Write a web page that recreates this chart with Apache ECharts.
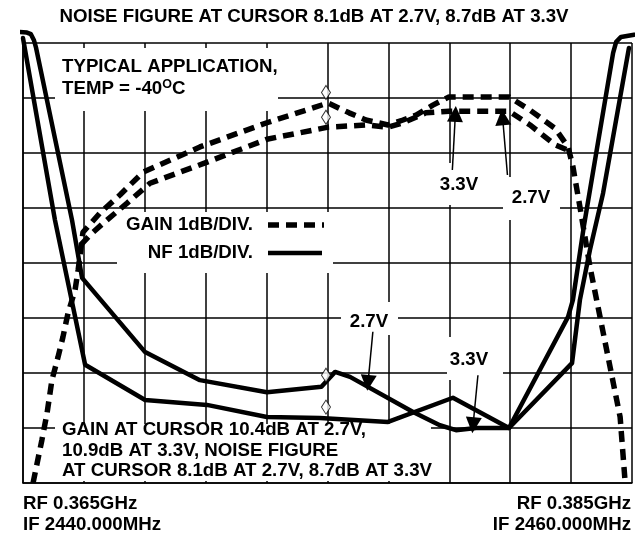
<!DOCTYPE html>
<html>
<head>
<meta charset="utf-8">
<script src="https://cdn.jsdelivr.net/npm/echarts@6/dist/echarts.min.js"></script>
<style>
html, body { margin: 0; padding: 0; background: #fff; }
#app { width: 636px; height: 537px; }
</style>
</head>
<body>
<div id="app"></div>
<script>
// x: IF frequency in MHz (2MHz/div), y: screen divisions (1dB/div)
var xTicks = [2440, 2460, 2];
var yTicks = [0, 8, 1];

var gain33 = [[2440.33,0],[2440.62,0.78],[2440.79,1.27],[2440.95,1.87],[2441.15,2.29],[2441.31,2.65],
  [2441.48,3.09],[2441.71,3.51],[2441.81,3.87],[2441.97,4.56],[2442.53,4.91],[2443.19,5.24],[2443.94,5.65],
  [2445.81,6.11],[2448.01,6.55],[2449.52,6.82],[2450.02,6.91],[2450.71,6.73],[2451.26,6.6],[2451.99,6.51],
  [2452.48,6.6],[2452.91,6.69],[2453.46,6.87],[2453.99,7.02],[2455.96,7.02],[2456.65,6.78],[2457.47,6.45],
  [2457.90,6.11],[2458.06,5.75],[2458.29,5.02],[2458.62,3.93],[2458.95,3.02],[2459.28,2.11],[2459.61,1.2],
  [2459.77,0.05]];
var gain27 = [[2441.90,4.33],[2442.20,4.51],[2442.69,4.75],[2443.42,5.09],[2444.17,5.45],[2445.98,5.82],
  [2448.01,6.25],[2450.02,6.47],[2451.26,6.51],[2451.99,6.47],[2452.48,6.55],[2453.23,6.73],[2453.99,6.76],
  [2455.96,6.76],[2456.65,6.51],[2457.47,6.15],[2457.90,6.05]];
var nf27 = [[2439.84,8.2],[2440.13,8.19],[2440.26,8.16],[2440.36,8.05],[2440.43,7.91],[2441.61,4.78],
  [2441.94,3.73],[2444.01,2.38],[2445.81,1.87],[2448.01,1.65],[2449.80,1.75],[2450.25,2.02],[2450.74,1.93],
  [2452.81,1.29],[2453.69,1.05],[2454.22,0.96],[2454.88,1.0],[2455.96,1.0],[2457.90,3.02],[2458.06,3.33],
  [2458.42,4.67],[2459.38,7.82],[2459.48,8.02],[2459.64,8.11],[2460.07,8.15]];
var nf33 = [[2440.0,8.09],[2441.05,4.78],[2442.04,2.15],[2444.01,1.51],[2446.04,1.42],[2448.01,1.2],
  [2449.75,1.18],[2451.99,1.11],[2454.12,1.55],[2455.96,1.0],[2458.03,2.18],[2458.29,3.33],[2458.62,4.24],
  [2459.05,5.27],[2459.90,7.91]];
var cursorMarks = [[2449.95,7.1],[2449.95,6.65],[2449.95,1.96],[2449.95,1.38]];
var arrows = [
  [[2454.10,5.69],[2454.20,6.71]],
  [[2455.91,5.6],[2455.75,6.65]],
  [[2451.49,2.75],[2451.33,1.82]],
  [[2454.94,1.96],[2454.78,1.05]]
];

var FAMILY = '"Liberation Sans", Arial, sans-serif';
var FSIZE = 18.7;
var titleText = 'NOISE FIGURE AT CURSOR 8.1dB AT 2.7V, 8.7dB AT 3.3V';
var noteText = 'GAIN AT CURSOR 10.4dB AT 2.7V,\n10.9dB AT 3.3V, NOISE FIGURE\nAT CURSOR 8.1dB AT 2.7V, 8.7dB AT 3.3V';

function box(x, y, w, h) {
  return { type: 'rect', z: 1, shape: { x: x, y: y, width: w, height: h }, style: { fill: '#fff' } };
}
// y is the middle of the first line
function txt(x, y, s, align) {
  return {
    type: 'text', z: 5, x: x, y: y - 10.25,
    style: {
      text: s, fontSize: FSIZE, fontWeight: 'bold', fontFamily: FAMILY, fill: '#000',
      align: align || 'left', verticalAlign: 'top', lineHeight: 20.5
    }
  };
}

var myChart = echarts.init(document.getElementById('app'));

var axisCommon = {
  type: 'value',
  axisLabel: { show: false },
  axisTick: { show: false },
  axisLine: { show: true, lineStyle: { color: '#000', width: 1.5 } },
  splitLine: { show: true, lineStyle: { color: '#000', width: 1.5 } }
};

var option = {
  animation: false,
  backgroundColor: '#fff',
  grid: { left: 23, right: 4, top: 43, bottom: 54 },
  xAxis: Object.assign({}, axisCommon, { min: xTicks[0], max: xTicks[1], interval: xTicks[2] }),
  yAxis: Object.assign({}, axisCommon, { min: yTicks[0], max: yTicks[1], interval: yTicks[2] }),
  graphic: [
    box(55, 48, 223, 63),
    box(117, 212, 216, 61),
    box(55, 424, 376, 57),
    box(341, 302, 57, 33),
    box(447, 337, 56, 43),
    box(428, 163, 64, 42),
    box(503, 177, 57, 43),
    txt(314, 17, titleText, 'center'),
    txt(62, 67, 'TYPICAL APPLICATION,'),
    {
      type: 'text', z: 5, x: 62, y: 78,
      style: {
        text: '{a|TEMP = -40}{s|O}{a|C}', verticalAlign: 'top', fill: '#000',
        rich: {
          a: { fontSize: FSIZE, fontWeight: 'bold', fontFamily: FAMILY, lineHeight: 20, verticalAlign: 'bottom' },
          s: { fontSize: 12.5, fontWeight: 'bold', fontFamily: FAMILY, lineHeight: 20, verticalAlign: 'top' }
        }
      }
    },
    txt(253, 225, 'GAIN 1dB/DIV.', 'right'),
    txt(253, 253, 'NF 1dB/DIV.', 'right'),
    { type: 'line', z: 5, shape: { x1: 268, y1: 225, x2: 324, y2: 225 },
      style: { stroke: '#000', lineWidth: 5.5, lineDash: [11, 7] } },
    { type: 'line', z: 5, shape: { x1: 268, y1: 253, x2: 322, y2: 253 },
      style: { stroke: '#000', lineWidth: 4.5 } },
    txt(62, 430, noteText),
    txt(23, 504, 'RF 0.365GHz\nIF 2440.000MHz'),
    txt(631, 504, 'RF 0.385GHz\nIF 2460.000MHz', 'right'),
    txt(459, 185, '3.3V', 'center'),
    txt(531, 198, '2.7V', 'center'),
    txt(369, 322, '2.7V', 'center'),
    txt(469, 360, '3.3V', 'center')
  ],
  series: [
    {
      name: 'GAIN 3.3V', type: 'line', data: gain33, symbol: 'none', clip: false, z: 3,
      lineStyle: { color: '#000', width: 5.5, type: [11, 7], cap: 'butt' }
    },
    {
      name: 'GAIN 2.7V', type: 'line', data: gain27, symbol: 'none', clip: false, z: 3,
      lineStyle: { color: '#000', width: 5.5, type: [11, 7], cap: 'butt' }
    },
    {
      name: 'NF 2.7V', type: 'line', data: nf27, symbol: 'none', clip: false, z: 3,
      lineStyle: { color: '#000', width: 4.5, join: 'round', cap: 'round' }
    },
    {
      name: 'NF 3.3V', type: 'line', data: nf33, symbol: 'none', clip: false, z: 3,
      lineStyle: { color: '#000', width: 4.5, join: 'round', cap: 'round' }
    },
    {
      name: 'cursor', type: 'scatter', data: cursorMarks, symbol: 'diamond', symbolSize: [9, 14], z: 6,
      itemStyle: { color: '#fff', borderColor: '#000', borderWidth: 1 }
    },
    {
      name: 'arrows', type: 'lines', coordinateSystem: 'cartesian2d', z: 6,
      symbol: ['none', 'triangle'], symbolSize: [8, 16],
      lineStyle: { color: '#000', width: 1.5, opacity: 1 },
      data: arrows.map(function (a) { return { coords: a }; })
    }
  ]
};

myChart.setOption(option);
</script>
</body>
</html>
